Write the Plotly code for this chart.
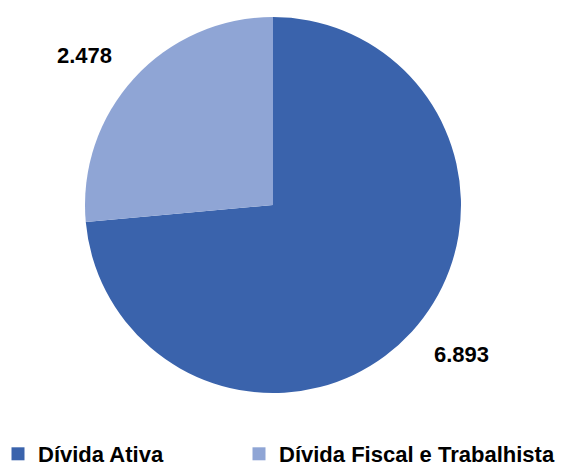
import math
import plotly.graph_objects as go

labels = ["Dívida Ativa", "Dívida Fiscal e Trabalhista"]
values = [6893, 2478]
text_labels = ["6.893", "2.478"]
colors = ["#3A63AC", "#8FA5D5"]

W, H = 576, 467
# page body adds an 8px margin, so geometry is shifted back by 8px
cx, cy, r = 265, 197, 188
FONT = "Liberation Sans, Arial"

fig = go.Figure()

fig.add_trace(go.Pie(
    labels=labels,
    values=values,
    sort=False,
    direction="clockwise",
    rotation=0,
    marker=dict(colors=colors, line=dict(width=0)),
    textinfo="none",
    hoverinfo="label+value",
    showlegend=False,
    domain=dict(x=[(cx - r) / W, (cx + r) / W], y=[1 - (cy + r) / H, 1 - (cy - r) / H]),
))

# value labels placed outside each slice, at the slice midpoint angle
total = sum(values)
start = 0
for v, t in zip(values, text_labels):
    mid = start + v / total * 360 / 2
    start += v / total * 360
    a = math.radians(mid)
    x = cx + 255 * math.sin(a)
    y = cy - 222 * math.cos(a)
    fig.add_annotation(
        x=x / W, y=1 - y / H, xref="paper", yref="paper",
        xanchor="center", yanchor="middle",
        text=t, showarrow=False,
        font=dict(family=FONT, size=22, color="#000000", weight="bold"),
    )

# legend entries as empty square-marker traces, one legend each so they can be spaced freely
legend_x = [-10, 231]
legend_names = ["legend", "legend2"]
for name, col, lx, lg in zip(labels, colors, legend_x, legend_names):
    fig.add_trace(go.Scatter(
        x=[None], y=[None], mode="markers", name=name,
        marker=dict(symbol="square", size=13, color=col),
        legend=lg, showlegend=True, hoverinfo="skip",
    ))

legend_style = dict(
    orientation="h",
    xanchor="left",
    y=(H - 446) / H, yanchor="middle",
    font=dict(family=FONT, size=22, color="#000000", weight="bold"),
    bgcolor="rgba(0,0,0,0)",
)

fig.update_layout(
    width=W, height=H,
    margin=dict(l=0, r=0, t=0, b=0, autoexpand=False),
    paper_bgcolor="white",
    plot_bgcolor="white",
    xaxis=dict(visible=False),
    yaxis=dict(visible=False),
    legend=dict(x=legend_x[0] / W, **legend_style),
    legend2=dict(x=legend_x[1] / W, **legend_style),
)

fig.write_html("out.html")
